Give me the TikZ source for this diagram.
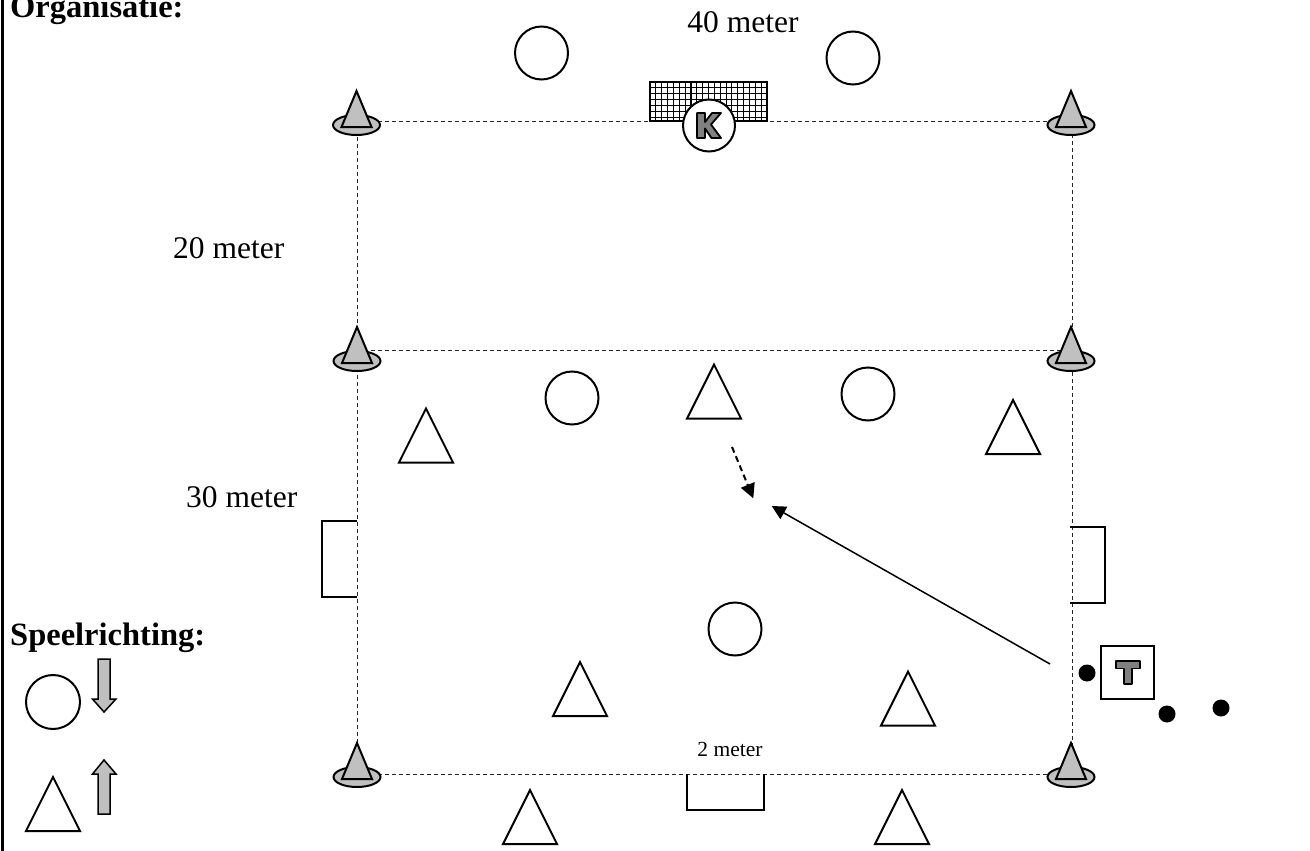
\documentclass[tikz,border=0pt]{standalone}
\usepackage{fontspec}
\setmainfont{Liberation Serif}
\usetikzlibrary{arrows.meta}
\definecolor{conegray}{HTML}{C0C0C0}
\definecolor{lettergray}{HTML}{808080}
\begin{document}
\begin{tikzpicture}[x=1pt,y=-1pt,
  player/.style={circle,draw=black,line width=2pt,fill=white,minimum size=53pt,inner sep=0pt},
  fieldline/.style={draw=black!85,line width=1pt,dash pattern=on 4pt off 3pt},
  lbl/.style={font=\fontsize{31.5}{36}\selectfont,inner sep=0pt},
  blbl/.style={font=\fontsize{32.5}{36}\selectfont\bfseries,inner sep=0pt},
  slbl/.style={font=\fontsize{21.5}{25}\selectfont,inner sep=0pt},
  goalline/.style={draw=black,line width=2pt},
  ptri/.pic={\draw[line width=2pt,line join=miter,fill=white] (0,-27)--(27,27)--(-27,27)--cycle;},
  cone/.pic={\draw[line width=2pt,fill=conegray] (0,0) ellipse[x radius=23.5pt,y radius=10pt];
             \draw[line width=2pt,line join=miter,fill=conegray] (0,-34)--(15,2)--(-15,2)--cycle;},
  dirarrow/.style={draw=black,line width=1.5pt,fill=conegray,line join=miter},
  glyph/.style={draw=black,line width=1.8pt,fill=lettergray,line join=round}
]
\useasboundingbox (0,0) rectangle (1310,851);
% left border
\draw[line width=2.5pt] (2.5,0) -- (2.5,851);

% texts
\node[blbl,anchor=base west] (org) at (10,18) {Organisatie:};
\node[lbl,anchor=base] (m40) at (743,33) {40 meter};
\node[lbl,anchor=base west] (m20) at (173,258) {20 meter};
\node[lbl,anchor=base west] (m30) at (186,507) {30 meter};
\node[slbl,anchor=base] (m2) at (730,756) {2 meter};
\node[blbl,anchor=base west] (spr) at (10,645) {Speelrichting:};

% field
\coordinate (ftl) at (357,121);
\coordinate (ftr) at (1072,121);
\coordinate (fbl) at (357,774);
\coordinate (fbr) at (1072,774);
\coordinate (fml) at (357,350);
\coordinate (fmr) at (1072,350);
\draw[fieldline] (ftl) -- (ftr) -- (fbr) -- (fbl) -- cycle;
\draw[fieldline] (fml) -- (fmr);

% side goals
\draw[goalline] (357,521) -- (322,521) -- (322,597) -- (357,597);
\draw[goalline] (1070,527) -- (1105,527) -- (1105,603) -- (1070,603);
\draw[goalline] (687,774) -- (687,810) -- (764,810) -- (764,774);

% top goal with net
\fill[white] (650,82) rectangle (767,121);
\draw[line width=1.1pt,shift={(650,82)}] (0,0) grid[step=5.85pt] (117,39);
\draw[line width=1.4pt] (650,82) rectangle (767,121);

% cones
\pic (c1) at (356.5,125) {cone};
\pic (c2) at (1071,125) {cone};
\pic (c3) at (357,361) {cone};
\pic (c4) at (1071,361) {cone};
\pic (c5) at (357,777) {cone};
\pic (c6) at (1071,777) {cone};

% keeper
\node[player,minimum size=52pt] (keeper) at (709,125.5) {};
\draw[glyph] (697,113)--(705,113)--(705,122)--(712,113)--(721,113)--(711,124.5)--(721,138)--(711.5,138)--(705,128.5)--(705,138)--(697,138)--cycle;

% circle players
\node[player] (o1) at (541.5,53) {};
\node[player] (o2) at (853,58) {};
\node[player] (o3) at (572,398) {};
\node[player] (o4) at (868,394) {};
\node[player] (o5) at (735,629) {};

% triangle players
\pic (t1) at (714,391.5) {ptri};
\pic (t2) at (426,435.5) {ptri};
\pic (t3) at (1013,427) {ptri};
\pic (t4) at (580,689) {ptri};
\pic (t5) at (908,698.5) {ptri};
\pic (t6) at (530,817) {ptri};
\pic (t7) at (902,817) {ptri};

% trainer
\node[draw=black,line width=1.5pt,minimum size=53pt,inner sep=0pt] (tbox) at (1127.5,672.5) {};
\draw[glyph] (1116,661)--(1140,661)--(1140,668.5)--(1132,668.5)--(1132,684)--(1124,684)--(1124,668.5)--(1116,668.5)--cycle;

% balls
\fill (1087,673) circle[radius=8.5pt];
\fill (1167,714) circle[radius=8.5pt];
\fill (1221,708) circle[radius=8.5pt];

% pass arrows
\coordinate (pstart) at (1050,664);
\coordinate (pend) at (771.7,506);
\draw[line width=1.5pt,-{Triangle[length=14pt,width=14pt]}] (pstart) -- (pend);
\coordinate (rstart) at (732,447);
\coordinate (rend) at (753.3,498.3);
\draw[line width=2pt,dash pattern=on 6pt off 4pt,-{Triangle[length=14.5pt,width=14.5pt]}] (rstart) -- (rend);

% legend
\node[player,minimum size=54pt] (lo) at (53,702) {};
\pic (lt) at (53,804) {ptri};
\draw[dirarrow] (98,659)--(110,659)--(110,699)--(116,699)--(104,712)--(92.5,699)--(98,699)--cycle;
\draw[dirarrow] (104,760)--(116,774)--(110,774)--(110,814)--(98,814)--(98,774)--(92.5,774)--cycle;
\end{tikzpicture}
\end{document}
